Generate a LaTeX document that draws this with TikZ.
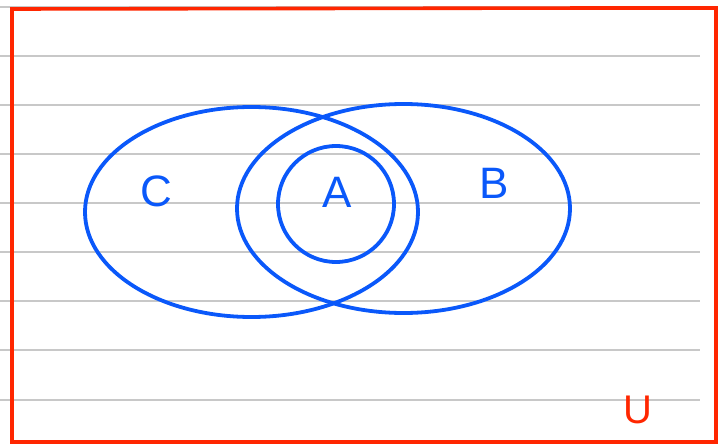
\documentclass[tikz,border=0pt]{standalone}
\usepackage{fontspec}
\setmainfont{Liberation Sans}
\definecolor{ink}{RGB}{10,88,250}
\definecolor{frame}{RGB}{255,38,0}
\definecolor{rule}{RGB}{200,200,200}
\tikzset{
  setline/.style={ink,line width=3.8pt},
  setlabel/.style={text=ink,font=\fontsize{44}{44}\selectfont,inner sep=0pt},
}
\begin{document}
\begin{tikzpicture}[x=1pt,y=-1pt,line cap=round,line join=round]
\useasboundingbox (0,0) rectangle (726,444);
\foreach \yy in {7,56,105,154,203,252,301,350,400}
  \draw[rule,line width=1.3pt,line cap=butt] (0,\yy) -- (700,\yy);
\draw[frame,line width=3.6pt,line join=miter] (12,9) -- (600,8) -- (716,8) -- (716,442) -- (12,442) -- cycle;
\draw[setline] (251.5,212) ellipse[x radius=166.5pt,y radius=105pt];
\draw[setline] (403.5,208.5) ellipse[x radius=166.5pt,y radius=104.5pt];
\draw[setline] (336,204) circle[radius=58pt];
\node[setlabel] (labC) at (156,191) {C};
\node[setlabel] (labA) at (337,192) {A};
\node[setlabel] (labB) at (494,183) {B};
\node[text=frame,font=\fontsize{40}{40}\selectfont,inner sep=0pt] (labU) at (638,410) {U};
\end{tikzpicture}
\end{document}
